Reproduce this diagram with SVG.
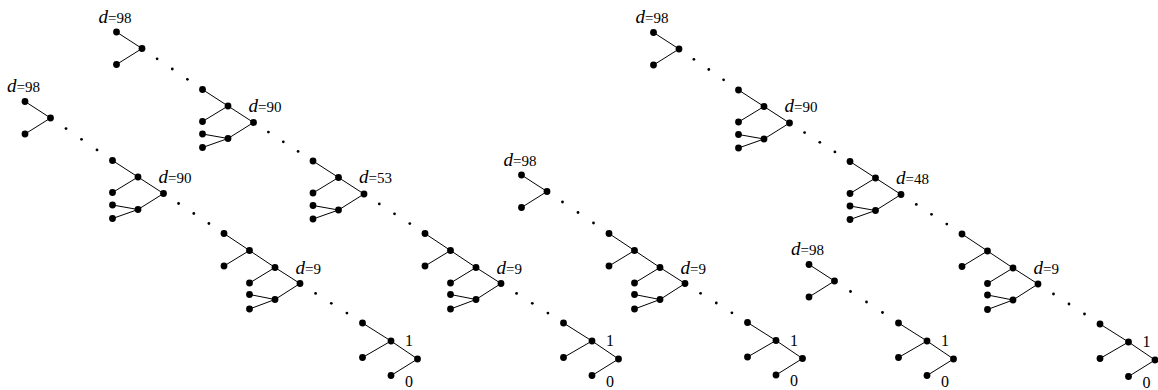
<svg xmlns="http://www.w3.org/2000/svg" xmlns:xlink="http://www.w3.org/1999/xlink" width="1158" height="390" viewBox="0 0 1158 390">
<style>
.lbl{font-family:"Liberation Serif","Times New Roman",serif;font-size:15px;fill:#000}
.d{font-style:italic;font-size:19px}
.num{font-family:"Liberation Serif","Times New Roman",serif;font-size:16px;fill:#000}
.e{fill:none;stroke:#000;stroke-width:1}
.n{fill:#000}
.dot{fill:#000}
</style>
<defs>
<g id="nS"><circle class="n" cx="0" cy="0" r="3.4"/><circle class="n" cx="0" cy="32.5" r="3.4"/><circle class="n" cx="25.5" cy="16.5" r="3.4"/></g>
<g id="nM"><circle class="n" cx="0" cy="0" r="3.4"/><circle class="n" cx="25.5" cy="16.5" r="3.4"/><circle class="n" cx="0" cy="32" r="3.4"/><circle class="n" cx="51" cy="33" r="3.4"/><circle class="n" cx="25.5" cy="49" r="3.4"/><circle class="n" cx="0" cy="44.5" r="3.4"/><circle class="n" cx="0" cy="58" r="3.4"/></g>
<g id="nL"><circle class="n" cx="0" cy="0" r="3.4"/><circle class="n" cx="25.5" cy="17" r="3.4"/><circle class="n" cx="0" cy="32.5" r="3.4"/><circle class="n" cx="51" cy="34" r="3.4"/><circle class="n" cx="25.5" cy="49.5" r="3.4"/><circle class="n" cx="76" cy="50" r="3.4"/><circle class="n" cx="51" cy="66" r="3.4"/><circle class="n" cx="25.5" cy="61" r="3.4"/><circle class="n" cx="25.5" cy="75.5" r="3.4"/></g>
<g id="nT"><circle class="n" cx="0" cy="0" r="3.4"/><circle class="n" cx="28.5" cy="18" r="3.4"/><circle class="n" cx="0" cy="34.5" r="3.4"/><circle class="n" cx="55" cy="36" r="3.4"/><circle class="n" cx="28.5" cy="52.5" r="3.4"/></g>
</defs>

<g id="connectors">
<!-- chain 1 -->
<path class="e" transform="translate(25,101.5)" d="M0,0L25.5,16.5L0,32.5"/>
<path class="e" transform="translate(112.5,160.5)" d="M0,0L25.5,16.5L0,32M25.5,16.5L51,33L25.5,49M0,44.5L25.5,49L0,58"/>
<path class="e" transform="translate(224,233.5)" d="M0,0L25.5,17L0,32.5M25.5,17L51,34L25.5,49.5M51,34L76,50L51,66M25.5,61L51,66L25.5,75.5"/>
<path class="e" transform="translate(362.5,323)" d="M0,0L28.5,18L0,34.5M28.5,18L55,36L28.5,52.5"/>
<!-- chain 2 -->
<path class="e" transform="translate(116.5,32)" d="M0,0L25.5,16.5L0,32.5"/>
<path class="e" transform="translate(202.5,89.5)" d="M0,0L25.5,16.5L0,32M25.5,16.5L51,33L25.5,49M0,44.5L25.5,49L0,58"/>
<path class="e" transform="translate(313,161)" d="M0,0L25.5,16.5L0,32M25.5,16.5L51,33L25.5,49M0,44.5L25.5,49L0,58"/>
<path class="e" transform="translate(425,233.5)" d="M0,0L25.5,17L0,32.5M25.5,17L51,34L25.5,49.5M51,34L76,50L51,66M25.5,61L51,66L25.5,75.5"/>
<path class="e" transform="translate(563.5,323)" d="M0,0L28.5,18L0,34.5M28.5,18L55,36L28.5,52.5"/>
<!-- chain 3 -->
<path class="e" transform="translate(521.5,175)" d="M0,0L25.5,16.5L0,32.5"/>
<path class="e" transform="translate(609,233.5)" d="M0,0L25.5,17L0,32.5M25.5,17L51,34L25.5,49.5M51,34L76,50L51,66M25.5,61L51,66L25.5,75.5"/>
<path class="e" transform="translate(747.5,322.5)" d="M0,0L28.5,18L0,34.5M28.5,18L55,36L28.5,52.5"/>
<!-- chain 4 -->
<path class="e" transform="translate(809,264.5)" d="M0,0L25.5,16.5L0,32.5"/>
<path class="e" transform="translate(898.5,323)" d="M0,0L28.5,18L0,34.5M28.5,18L55,36L28.5,52.5"/>
<!-- chain 5 -->
<path class="e" transform="translate(653.5,32.5)" d="M0,0L25.5,16.5L0,32.5"/>
<path class="e" transform="translate(738.5,90)" d="M0,0L25.5,16.5L0,32M25.5,16.5L51,33L25.5,49M0,44.5L25.5,49L0,58"/>
<path class="e" transform="translate(850,161.5)" d="M0,0L25.5,16.5L0,32M25.5,16.5L51,33L25.5,49M0,44.5L25.5,49L0,58"/>
<path class="e" transform="translate(962,234)" d="M0,0L25.5,17L0,32.5M25.5,17L51,34L25.5,49.5M51,34L76,50L51,66M25.5,61L51,66L25.5,75.5"/>
<path class="e" transform="translate(1100,324)" d="M0,0L28.5,18L0,34.5M28.5,18L55,36L28.5,52.5"/>
</g>

<g id="dots">
<circle class="dot" cx="66" cy="128.6" r="1.4"/><circle class="dot" cx="81.5" cy="139.3" r="1.4"/><circle class="dot" cx="97" cy="149.9" r="1.4"/>
<circle class="dot" cx="178.6" cy="203.5" r="1.4"/><circle class="dot" cx="193.8" cy="213.5" r="1.4"/><circle class="dot" cx="208.9" cy="223.5" r="1.4"/>
<circle class="dot" cx="315.6" cy="293.4" r="1.4"/><circle class="dot" cx="331.3" cy="303.3" r="1.4"/><circle class="dot" cx="346.9" cy="313.1" r="1.4"/>

<circle class="dot" cx="157.1" cy="58.8" r="1.4"/><circle class="dot" cx="172.3" cy="69" r="1.4"/><circle class="dot" cx="187.4" cy="79.3" r="1.4"/>
<circle class="dot" cx="268.4" cy="132.1" r="1.4"/><circle class="dot" cx="283.3" cy="141.8" r="1.4"/><circle class="dot" cx="298.1" cy="151.4" r="1.4"/>
<circle class="dot" cx="379.3" cy="203.9" r="1.4"/><circle class="dot" cx="394.5" cy="213.8" r="1.4"/><circle class="dot" cx="409.8" cy="223.6" r="1.4"/>
<circle class="dot" cx="516.6" cy="293.4" r="1.4"/><circle class="dot" cx="532.3" cy="303.3" r="1.4"/><circle class="dot" cx="547.9" cy="313.1" r="1.4"/>

<circle class="dot" cx="562.5" cy="202" r="1.4"/><circle class="dot" cx="578" cy="212.5" r="1.4"/><circle class="dot" cx="593.5" cy="223" r="1.4"/>
<circle class="dot" cx="700.6" cy="293.3" r="1.4"/><circle class="dot" cx="716.3" cy="303" r="1.4"/><circle class="dot" cx="731.9" cy="312.8" r="1.4"/>

<circle class="dot" cx="850.5" cy="291.5" r="1.4"/><circle class="dot" cx="866.5" cy="302" r="1.4"/><circle class="dot" cx="882.5" cy="312.5" r="1.4"/>

<circle class="dot" cx="693.9" cy="59.3" r="1.4"/><circle class="dot" cx="708.8" cy="69.5" r="1.4"/><circle class="dot" cx="723.6" cy="79.8" r="1.4"/>
<circle class="dot" cx="804.6" cy="132.6" r="1.4"/><circle class="dot" cx="819.8" cy="142.3" r="1.4"/><circle class="dot" cx="834.9" cy="151.9" r="1.4"/>
<circle class="dot" cx="916.3" cy="204.4" r="1.4"/><circle class="dot" cx="931.5" cy="214.3" r="1.4"/><circle class="dot" cx="946.8" cy="224.1" r="1.4"/>
<circle class="dot" cx="1053.5" cy="294" r="1.4"/><circle class="dot" cx="1069" cy="304" r="1.4"/><circle class="dot" cx="1084.5" cy="314" r="1.4"/>
</g>

<!-- chain 1 -->
<g id="c1-g98" transform="translate(25,101.5)"><use href="#nS"/><text class="lbl" x="-18" y="-9.5"><tspan class="d">d</tspan>=98</text></g>
<g id="c1-g90" transform="translate(112.5,160.5)"><use href="#nM"/><text class="lbl" x="46" y="22"><tspan class="d">d</tspan>=90</text></g>
<g id="c1-g9" transform="translate(224,233.5)"><use href="#nL"/><text class="lbl" x="71.5" y="40"><tspan class="d">d</tspan>=9</text></g>
<g id="c1-g1" transform="translate(362.5,323)"><use href="#nT"/><text class="num" x="42.5" y="23">1</text><text class="num" x="42.5" y="63.5">0</text></g>
<!-- chain 2 -->
<g id="c2-g98" transform="translate(116.5,32)"><use href="#nS"/><text class="lbl" x="-18" y="-9.5"><tspan class="d">d</tspan>=98</text></g>
<g id="c2-g90" transform="translate(202.5,89.5)"><use href="#nM"/><text class="lbl" x="46" y="22"><tspan class="d">d</tspan>=90</text></g>
<g id="c2-g53" transform="translate(313,161)"><use href="#nM"/><text class="lbl" x="46" y="22"><tspan class="d">d</tspan>=53</text></g>
<g id="c2-g9" transform="translate(425,233.5)"><use href="#nL"/><text class="lbl" x="71.5" y="40"><tspan class="d">d</tspan>=9</text></g>
<g id="c2-g1" transform="translate(563.5,323)"><use href="#nT"/><text class="num" x="42.5" y="23">1</text><text class="num" x="42.5" y="63.5">0</text></g>
<!-- chain 3 -->
<g id="c3-g98" transform="translate(521.5,175)"><use href="#nS"/><text class="lbl" x="-18" y="-9.5"><tspan class="d">d</tspan>=98</text></g>
<g id="c3-g9" transform="translate(609,233.5)"><use href="#nL"/><text class="lbl" x="71.5" y="40"><tspan class="d">d</tspan>=9</text></g>
<g id="c3-g1" transform="translate(747.5,322.5)"><use href="#nT"/><text class="num" x="42.5" y="23">1</text><text class="num" x="42.5" y="63.5">0</text></g>
<!-- chain 4 -->
<g id="c4-g98" transform="translate(809,264.5)"><use href="#nS"/><text class="lbl" x="-18" y="-9.5"><tspan class="d">d</tspan>=98</text></g>
<g id="c4-g1" transform="translate(898.5,323)"><use href="#nT"/><text class="num" x="42.5" y="23">1</text><text class="num" x="42.5" y="63.5">0</text></g>
<!-- chain 5 -->
<g id="c5-g98" transform="translate(653.5,32.5)"><use href="#nS"/><text class="lbl" x="-18" y="-9.5"><tspan class="d">d</tspan>=98</text></g>
<g id="c5-g90" transform="translate(738.5,90)"><use href="#nM"/><text class="lbl" x="46" y="22"><tspan class="d">d</tspan>=90</text></g>
<g id="c5-g48" transform="translate(850,161.5)"><use href="#nM"/><text class="lbl" x="46" y="22"><tspan class="d">d</tspan>=48</text></g>
<g id="c5-g9" transform="translate(962,234)"><use href="#nL"/><text class="lbl" x="71.5" y="40"><tspan class="d">d</tspan>=9</text></g>
<g id="c5-g1" transform="translate(1100,324)"><use href="#nT"/><text class="num" x="42.5" y="23">1</text><text class="num" x="42.5" y="63.5">0</text></g>
</svg>
